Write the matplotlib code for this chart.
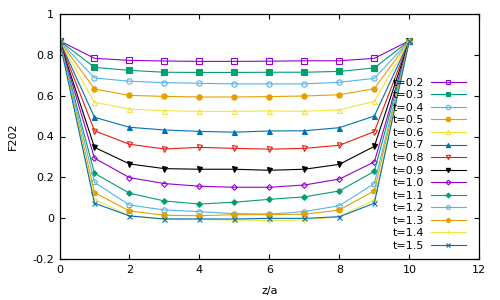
import numpy as np
import matplotlib
matplotlib.use('agg')
import matplotlib.pyplot as plt

z = [0, 1, 2, 3, 4, 5, 6, 7, 8, 9, 10]
labels = ['t=0.2', 't=0.3', 't=0.4', 't=0.5', 't=0.6', 't=0.7', 't=0.8',
          't=0.9', 't=1.0', 't=1.1', 't=1.2', 't=1.3', 't=1.4', 't=1.5']

f_t02 = [0.868, 0.782, 0.772, 0.769, 0.767, 0.767, 0.768, 0.770, 0.770, 0.782, 0.868]
f_t03 = [0.868, 0.738, 0.723, 0.714, 0.713, 0.713, 0.714, 0.714, 0.718, 0.735, 0.868]
f_t04 = [0.868, 0.686, 0.670, 0.663, 0.660, 0.657, 0.657, 0.657, 0.665, 0.684, 0.868]
f_t05 = [0.868, 0.632, 0.601, 0.596, 0.593, 0.593, 0.595, 0.598, 0.604, 0.634, 0.868]
f_t06 = [0.868, 0.567, 0.534, 0.526, 0.523, 0.523, 0.525, 0.523, 0.530, 0.572, 0.868]
f_t07 = [0.868, 0.494, 0.445, 0.432, 0.425, 0.421, 0.427, 0.428, 0.443, 0.500, 0.868]
f_t08 = [0.868, 0.428, 0.362, 0.339, 0.347, 0.342, 0.338, 0.342, 0.357, 0.424, 0.868]
f_t09 = [0.868, 0.347, 0.266, 0.243, 0.240, 0.240, 0.235, 0.240, 0.264, 0.352, 0.868]
f_t10 = [0.868, 0.294, 0.199, 0.170, 0.157, 0.152, 0.152, 0.163, 0.192, 0.276, 0.868]
f_t11 = [0.868, 0.220, 0.123, 0.085, 0.070, 0.079, 0.093, 0.105, 0.134, 0.230, 0.868]
f_t12 = [0.868, 0.176, 0.065, 0.041, 0.033, 0.023, 0.021, 0.033, 0.062, 0.170, 0.868]
f_t13 = [0.868, 0.126, 0.036, 0.015, 0.013, 0.018, 0.018, 0.020, 0.041, 0.135, 0.868]
f_t14 = [0.868, 0.093, 0.012, -0.005, -0.005, -0.008, -0.011, -0.008, 0.008, 0.090, 0.868]
f_t15 = [0.868, 0.074, 0.012, -0.003, -0.003, -0.003, 0.000, 0.000, 0.008, 0.074, 0.868]

series = [f_t02, f_t03, f_t04, f_t05, f_t06, f_t07, f_t08,
          f_t09, f_t10, f_t11, f_t12, f_t13, f_t14, f_t15]

# gnuplot default line colours and point types 4..15,1,2
colors = ['#9400d3', '#009e73', '#56b4e9', '#e69f00', '#f0e442', '#0072b2', '#e51e10',
          '#000000', '#9400d3', '#009e73', '#56b4e9', '#e69f00', '#f0e442', '#0072b2']
markers = [('s', False), ('s', True), ('o', False), ('o', True), ('^', False), ('^', True),
           ('v', False), ('v', True), ('D', False), ('D', True), ('p', False), ('p', True),
           ('+', True), ('x', True)]

fig = plt.figure(figsize=(5, 3), dpi=100)
ax = fig.add_axes([0.119, 0.1357, 0.8396, 0.8186])

for y, lab, c, (m, filled) in zip(series, labels, colors, markers):
    ms = 3.8 if m in ('s', 'o', 'p') else 3.6
    if m == 'D':
        ms = 2.9
    ax.plot(z, y, color=c, lw=0.8, marker=m, ms=ms, mew=0.8,
            mfc=c if filled else 'none', mec=c, label=lab)

ax.set_xlim(0, 12)
ax.set_ylim(-0.2, 1)
ax.set_xticks([0, 2, 4, 6, 8, 10, 12])
ax.set_yticks([-0.2, 0, 0.2, 0.4, 0.6, 0.8, 1])
ax.set_yticklabels(['-0.2', '0', '0.2', '0.4', '0.6', '0.8', '1'])
ax.tick_params(direction='in', length=3.3, width=0.8, top=True, right=True,
               labelsize=8, pad=4)
for s in ax.spines.values():
    s.set_linewidth(0.9)
ax.set_xlabel('z/a', fontsize=8, labelpad=8)
ax.set_ylabel('F202', fontsize=8, labelpad=10)

ax.legend(loc='center right', bbox_to_anchor=(0.9676, 0.387), frameon=False,
          markerfirst=False, fontsize=8, handlelength=3.1, handletextpad=0.6,
          labelspacing=0.23, borderpad=0, borderaxespad=0, markerscale=0.85)

fig.savefig('out.png', dpi=100)
